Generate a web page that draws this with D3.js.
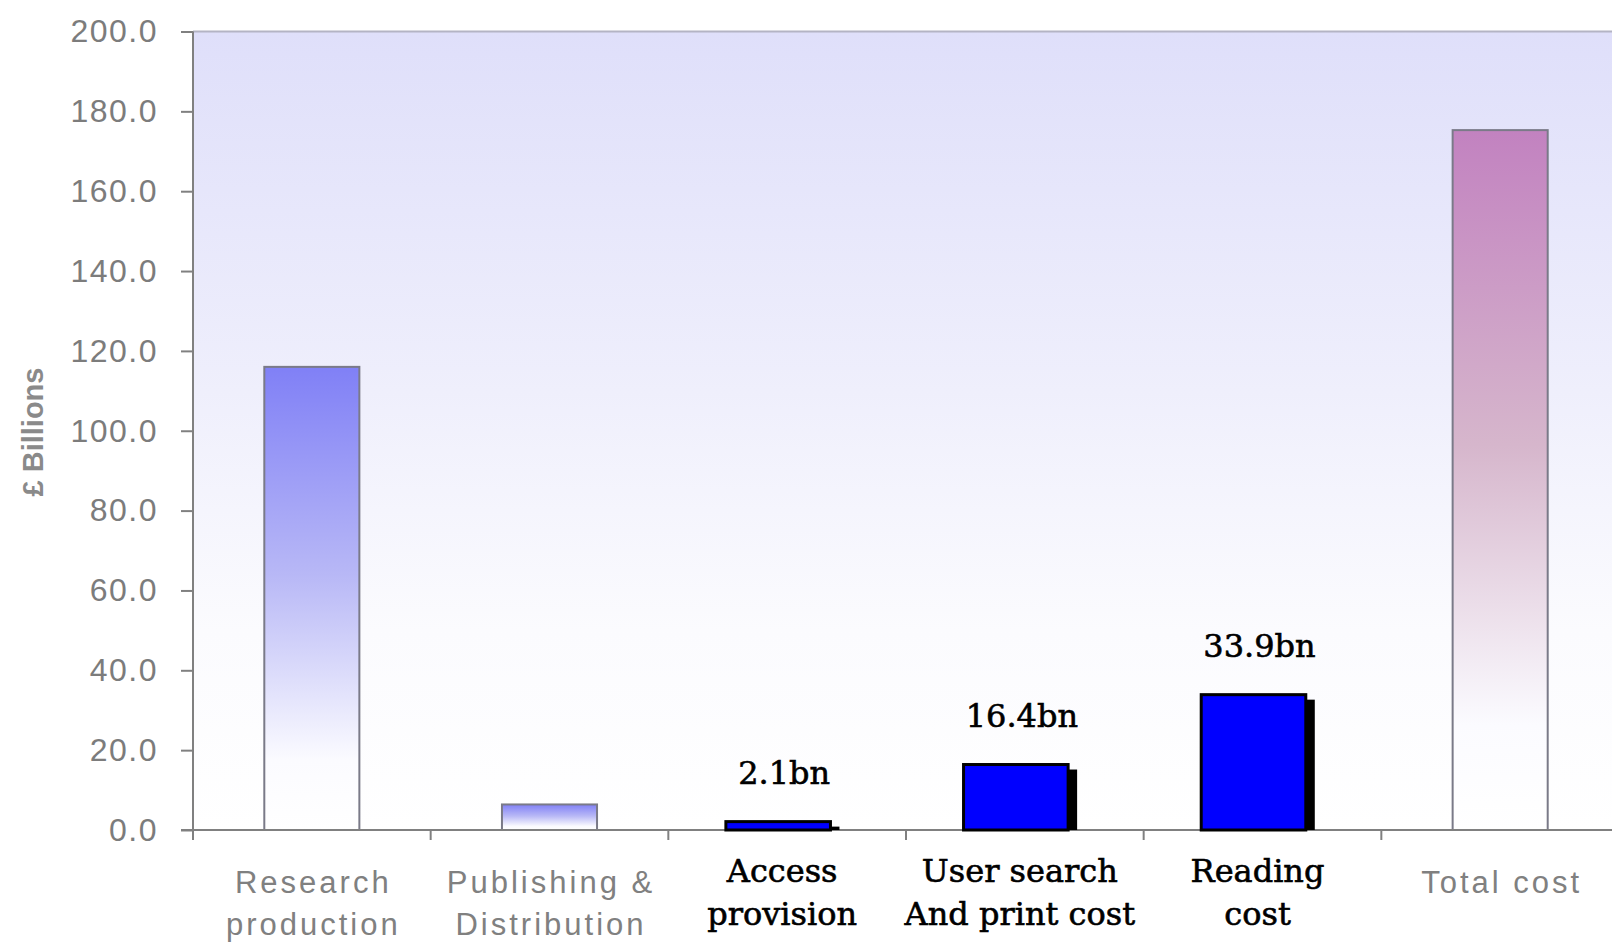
<!DOCTYPE html>
<html>
<head>
<meta charset="utf-8">
<script src="https://cdn.jsdelivr.net/npm/d3@7/dist/d3.min.js"></script>
<style>
  html, body { margin: 0; padding: 0; background: #ffffff; overflow: hidden; }
  svg { display: block; }
</style>
</head>
<body>
<svg id="chart" width="1612" height="942"></svg>
<script>
// Cost components of the scholarly communication cycle (£ billions)
const categories = [
  "Research production",
  "Publishing & Distribution",
  "Access provision",
  "User search And print cost",
  "Reading cost",
  "Total cost"
];
const categoryLines = [
  ["Research", "production"],
  ["Publishing &", "Distribution"],
  ["Access", "provision"],
  ["User search", "And print cost"],
  ["Reading", "cost"],
  ["Total cost"]
];
const values = [116.0, 6.4, 2.1, 16.4, 33.9, 175.3];
const valueLabels = [null, null, "2.1bn", "16.4bn", "33.9bn", null];
const emphasised = [false, false, true, true, true, false];
const yTicks = [0, 20, 40, 60, 80, 100, 120, 140, 160, 180, 200];
const yTitle = "£ Billions";

const svg = d3.select("#chart");
const plot = { left: 193, right: 1619, top: 31.5, bottom: 830 };

const x = d3.scaleBand().domain(categories).range([plot.left, plot.right]).padding(0);
const y = d3.scaleLinear().domain([0, 200]).range([plot.bottom, plot.top]);

const defs = svg.append("defs");

// plot background: lavender fading to white towards the baseline
const bg = defs.append("linearGradient").attr("id", "bgGrad")
  .attr("x1", 0).attr("y1", 0).attr("x2", 0).attr("y2", 1);
bg.append("stop").attr("offset", "0%").attr("stop-color", "#dfdffa");
bg.append("stop").attr("offset", "45%").attr("stop-color", "#efeffc");
bg.append("stop").attr("offset", "75%").attr("stop-color", "#fbfbfe");
bg.append("stop").attr("offset", "100%").attr("stop-color", "#ffffff");

function barGradient(id, top, mid) {
  const g = defs.append("linearGradient").attr("id", id)
    .attr("x1", 0).attr("y1", 0).attr("x2", 0).attr("y2", 1);
  g.append("stop").attr("offset", "0%").attr("stop-color", top);
  g.append("stop").attr("offset", "45%").attr("stop-color", mid);
  g.append("stop").attr("offset", "85%").attr("stop-color", "#fbfbff");
  g.append("stop").attr("offset", "100%").attr("stop-color", "#ffffff");
}
barGradient("blueGrad", "#8080f6", "#b8b8f6");
barGradient("pinkGrad", "#c282c0", "#d6b6cc");

svg.append("rect")
  .attr("x", plot.left).attr("y", plot.top)
  .attr("width", plot.right - plot.left).attr("height", plot.bottom - plot.top)
  .attr("fill", "url(#bgGrad)");

// top frame line
svg.append("line")
  .attr("x1", plot.left).attr("x2", plot.right)
  .attr("y1", plot.top).attr("y2", plot.top)
  .attr("stroke", "#b4b4c4").attr("stroke-width", 2);

const bw = x.bandwidth();

// standard gradient bars
const plain = categories.map((c, i) => ({ c, v: values[i], i })).filter(d => !emphasised[d.i]);
svg.append("g").selectAll("rect").data(plain).join("rect")
  .attr("x", d => x(d.c) + bw * 0.3)
  .attr("y", d => y(d.v))
  .attr("width", bw * 0.4)
  .attr("height", d => y(0) - y(d.v))
  .attr("fill", d => d.c === "Total cost" ? "url(#pinkGrad)" : "url(#blueGrad)")
  .attr("stroke", "#7a7a88").attr("stroke-width", 2);

// axes
const yAxis = svg.append("g")
  .attr("transform", `translate(${plot.left},0)`)
  .call(d3.axisLeft(y).tickValues(yTicks).tickFormat(d3.format(".1f")).tickSize(12).tickPadding(23));
yAxis.select(".domain").remove();
yAxis.selectAll(".tick line").attr("stroke", "#808080").attr("stroke-width", 2);
yAxis.selectAll(".tick text")
  .attr("fill", "#7c7c7c")
  .style("font-family", "'Liberation Sans', Arial, sans-serif")
  .style("font-size", "32px")
  .style("letter-spacing", "1.5px");

svg.append("line")
  .attr("x1", plot.left).attr("x2", plot.left)
  .attr("y1", plot.top).attr("y2", plot.bottom + 10)
  .attr("stroke", "#808080").attr("stroke-width", 2);
svg.append("line")
  .attr("x1", plot.left - 12).attr("x2", plot.right)
  .attr("y1", plot.bottom).attr("y2", plot.bottom)
  .attr("stroke", "#808080").attr("stroke-width", 2);

// category boundary ticks
svg.append("g").selectAll("line").data(categories.slice(1)).join("line")
  .attr("x1", d => x(d)).attr("x2", d => x(d))
  .attr("y1", plot.bottom).attr("y2", plot.bottom + 10)
  .attr("stroke", "#808080").attr("stroke-width", 2);

// emphasised solid blue bars with drop shadow
const strong = categories.map((c, i) => ({ c, v: values[i], i, label: valueLabels[i] })).filter(d => emphasised[d.i]);
const sw = bw * 0.44;
const sx = d => x(d.c) + (bw - sw) / 2 - 9;
const sg = svg.append("g");
sg.selectAll("rect.shadow").data(strong).join("rect")
  .attr("class", "shadow")
  .attr("x", d => sx(d) + 9)
  .attr("y", d => Math.min(y(d.v) + 5, y(0)))
  .attr("width", sw)
  .attr("height", d => Math.max(y(0) - y(d.v) - 5, 0))
  .attr("fill", "#000000");
sg.selectAll("rect.bar").data(strong).join("rect")
  .attr("class", "bar")
  .attr("x", d => sx(d))
  .attr("y", d => y(d.v))
  .attr("width", sw)
  .attr("height", d => y(0) - y(d.v))
  .attr("fill", "#0000ff")
  .attr("stroke", "#000000").attr("stroke-width", 3);

// value labels
svg.append("g").selectAll("text").data(strong).join("text")
  .attr("x", d => x(d.c) + bw / 2 - 3)
  .attr("y", d => y(d.v) - 38)
  .attr("text-anchor", "middle")
  .attr("fill", "#000000")
  .attr("stroke", "#000000").attr("stroke-width", 0.6)
  .style("font-family", "'DejaVu Serif', serif")
  .style("font-size", "32px")
  .text(d => d.label);

// category labels
svg.append("g").selectAll("text").data(categories).join("text")
  .attr("text-anchor", "middle")
  .each(function (c, i) {
    const t = d3.select(this);
    const cx = x(c) + bw / 2 + (emphasised[i] ? -5 : 1.5);
    if (emphasised[i]) {
      t.attr("fill", "#000000")
        .attr("stroke", "#000000").attr("stroke-width", 0.6)
        .style("font-family", "'DejaVu Serif', serif")
        .style("font-size", "32px");
    } else {
      t.attr("fill", "#808080")
        .style("font-family", "'Liberation Sans', Arial, sans-serif")
        .style("font-size", "31px")
        .style("letter-spacing", "3px");
    }
    categoryLines[i].forEach((line, k) => {
      t.append("tspan")
        .attr("x", cx)
        .attr("y", emphasised[i] ? 882 + k * 43 : 893 + k * 42)
        .text(line);
    });
  });

// y axis title
svg.append("text")
  .attr("transform", "translate(43,432) rotate(-90)")
  .attr("text-anchor", "middle")
  .attr("fill", "#8a8a8a")
  .style("font-family", "'Liberation Sans', Arial, sans-serif")
  .style("font-weight", "bold")
  .style("font-size", "29px")
  .text(yTitle);
</script>
</body>
</html>
